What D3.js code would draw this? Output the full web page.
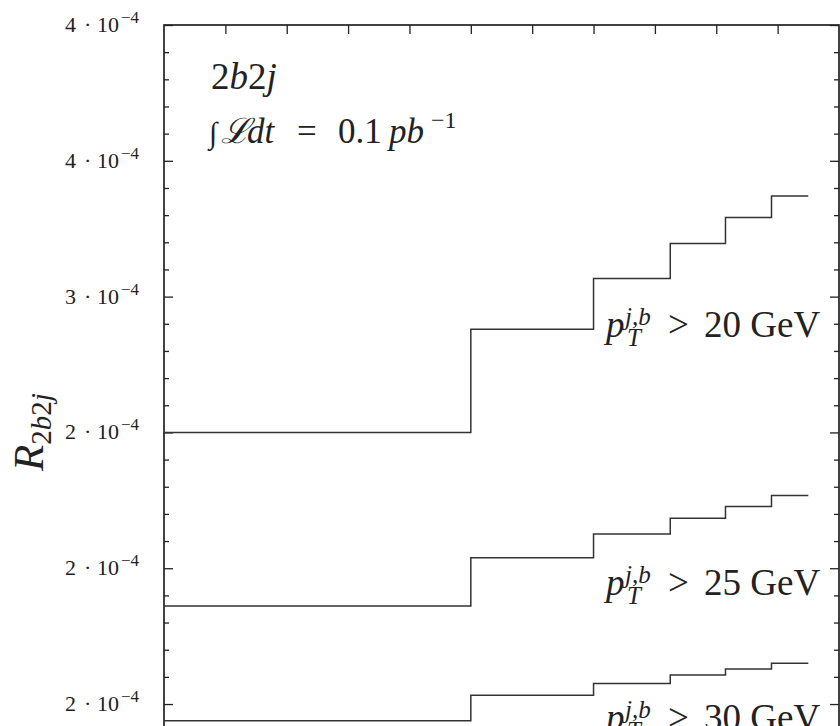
<!DOCTYPE html>
<html>
<head>
<meta charset="utf-8">
<script src="https://cdn.jsdelivr.net/npm/d3@7"></script>
<style>
  html, body { margin: 0; padding: 0; background: #fff; }
  svg { display: block; }
  text { font-family: "Liberation Serif", "DejaVu Serif", serif; fill: #222; }
</style>
</head>
<body>
<svg id="chart" width="840" height="726"></svg>
<script>
// Bin edges along the horizontal axis (step histogram)
const binEdges = [0, 5, 7, 8.25, 9.15, 9.9, 10.5];

// R_2b2j per bin for each p_T cut
const ratioPt20 = [2.50e-4, 2.88e-4, 3.067e-4, 3.196e-4, 3.291e-4, 3.370e-4];
const ratioPt25 = [1.861e-4, 2.039e-4, 2.126e-4, 2.184e-4, 2.227e-4, 2.268e-4];
const ratioPt30 = [1.4385e-4, 1.532e-4, 1.576e-4, 1.607e-4, 1.629e-4, 1.650e-4];

const seriesLabels = ["20", "25", "30"];

// Vertical axis: major ticks, their printed mantissas, minor ticks
const yMajorTicks = [4.0e-4, 3.5e-4, 3.0e-4, 2.5e-4, 2.0e-4, 1.5e-4];
const yMajorMantissa = ["4", "4", "3", "2", "2", "2"];
const yExponent = "\u22124";
const yMinorTicks = [3.9, 3.8, 3.7, 3.6, 3.4, 3.3, 3.2, 3.1, 2.9, 2.8, 2.7, 2.6,
                     2.4, 2.3, 2.2, 2.1, 1.9, 1.8, 1.7, 1.6, 1.4].map(v => v * 1e-4);
const xMajorTicks = [0, 1, 2, 3, 4, 5, 6, 7, 8, 9, 10, 11];

const svg = d3.select("#chart");

const x = d3.scaleLinear().domain([0, 11]).range([164, 839]);
const y = d3.scaleLinear().domain([1.4e-4, 4.0e-4]).range([731.2, 25]);

const ink = "#222";

// Frame
svg.append("rect")
  .attr("x", x(0)).attr("y", y(4.0e-4))
  .attr("width", x(11) - x(0)).attr("height", y(1.4e-4) - y(4.0e-4))
  .attr("fill", "none").attr("stroke", ink).attr("stroke-width", 1.7);

// Inward-pointing ticks on all visible sides
function styleAxis(g) {
  g.select(".domain").remove();
  g.selectAll(".tick line").attr("stroke", ink).attr("stroke-width", 1.3);
  g.selectAll(".tick text").remove();
}

svg.append("g").attr("transform", `translate(${x(0)},0)`)
  .call(d3.axisLeft(y).tickValues(yMajorTicks).tickSize(-9)).call(styleAxis);
svg.append("g").attr("transform", `translate(${x(0)},0)`)
  .call(d3.axisLeft(y).tickValues(yMinorTicks).tickSize(-5)).call(styleAxis);
svg.append("g").attr("transform", `translate(${x(11)},0)`)
  .call(d3.axisRight(y).tickValues(yMajorTicks).tickSize(-9)).call(styleAxis);
svg.append("g").attr("transform", `translate(${x(11)},0)`)
  .call(d3.axisRight(y).tickValues(yMinorTicks).tickSize(-5)).call(styleAxis);
svg.append("g").attr("transform", `translate(0,${y(4.0e-4)})`)
  .call(d3.axisTop(x).tickValues(xMajorTicks.slice(1, -1)).tickSize(-9)).call(styleAxis);

// Tick labels of the form m · 10^-4
const yLab = svg.append("g").selectAll("text")
  .data(yMajorTicks.map((v, i) => ({ v, m: yMajorMantissa[i] })))
  .join("text")
  .attr("y", d => y(d.v) + 7)
  .style("font-size", "22px");
yLab.append("tspan").attr("x", 65).text(d => d.m);
yLab.append("tspan").attr("x", 84).text("\u00B7");
yLab.append("tspan").attr("x", 97).text("10");
yLab.append("tspan").attr("x", 121).attr("dy", -9).style("font-size", "17px").text(yExponent);

// Axis title R_{2b2j}
const yTitle = svg.append("text")
  .attr("transform", "translate(43,432) rotate(-90)")
  .attr("text-anchor", "middle")
  .style("font-size", "43px");
yTitle.append("tspan").style("font-style", "italic").text("R");
const sub = yTitle.append("tspan").attr("dy", 8).style("font-size", "29px");
sub.append("tspan").text("2");
sub.append("tspan").style("font-style", "italic").text("b");
sub.append("tspan").text("2");
sub.append("tspan").style("font-style", "italic").text("j");

// Step lines
const stepLine = d3.line()
  .x(d => x(d[0]))
  .y(d => y(d[1]))
  .curve(d3.curveStepAfter);

const allSeries = [ratioPt20, ratioPt25, ratioPt30];
svg.append("g").selectAll("path")
  .data(allSeries)
  .join("path")
  .attr("d", vals => stepLine(vals.map((v, i) => [binEdges[i], v])
                          .concat([[binEdges[binEdges.length - 1], vals[vals.length - 1]]])))
  .attr("fill", "none")
  .attr("stroke", "#333")
  .attr("stroke-width", 1.5);

// Process and luminosity annotations
const t1 = svg.append("text").attr("x", 211).attr("y", 89).style("font-size", "37px");
t1.append("tspan").text("2");
t1.append("tspan").style("font-style", "italic").text("b");
t1.append("tspan").text("2");
t1.append("tspan").style("font-style", "italic").text("j");

const t2 = svg.append("text").attr("y", 143).style("font-size", "35px");
t2.append("tspan").attr("x", 209).style("font-size", "30px").text("\u222B");
t2.append("tspan").attr("x", 221).style("font-style", "italic").text("\u2112");
t2.append("tspan").attr("x", 247).style("font-style", "italic").text("dt");
t2.append("tspan").attr("x", 297).text("=");
t2.append("tspan").attr("x", 338).text("0.1");
t2.append("tspan").attr("x", 389).style("font-style", "italic").text("pb");
t2.append("tspan").attr("x", 431).attr("dy", -15).style("font-size", "24px").text("\u22121");

// p_T cut labels next to each curve
const cutBaselines = [337, 595, 730];
const cuts = svg.append("g").selectAll("text")
  .data(seriesLabels.map((s, i) => ({ s, yb: cutBaselines[i] })))
  .join("text")
  .attr("y", d => d.yb)
  .style("font-size", "37px");
cuts.append("tspan").attr("x", 606).style("font-style", "italic").text("p");
cuts.append("tspan").attr("x", 625).attr("dy", -12).style("font-size", "25px").style("font-style", "italic").text("j,b");
cuts.append("tspan").attr("x", 627).attr("dy", 21).style("font-size", "25px").style("font-style", "italic").text("T");
cuts.append("tspan").attr("x", 668).attr("dy", -9).text(">");
cuts.append("tspan").attr("x", 704).text(d => d.s + " GeV");
</script>
</body>
</html>
